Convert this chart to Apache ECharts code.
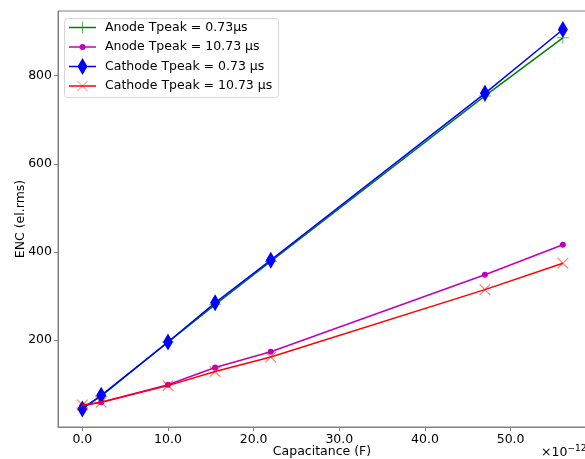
<!DOCTYPE html>
<html>
<head>
<meta charset="utf-8">
<script src="https://cdn.jsdelivr.net/npm/echarts@6/dist/echarts.min.js"></script>
<style>html,body{margin:0;padding:0;background:#fff}#c{width:585px;height:459px}</style>
</head>
<body>
<div id="c"></div>
<script>
// Capacitance in pF (axis shows ×10^-12)
const capacitance = [0, 2.2, 10, 15.5, 22, 47, 56.1];
const anodeFast   = [45, 72, 195, 280, 378, 754, 886];
const anodeSlow   = [50, 58, 98, 137, 173, 348, 416];
const cathodeFast = [43, 74, 195, 284, 381, 760, 905];
const cathodeSlow = [52, 58, 96, 128, 161, 314, 374];
const xTicks = [0, 10, 20, 30, 40, 50];
const yTicks = [200, 400, 600, 800];
const seriesNames = ['Anode Tpeak = 0.73\u00b5s', 'Anode Tpeak = 10.73 \u00b5s', 'Cathode Tpeak = 0.73 \u00b5s', 'Cathode Tpeak = 10.73 \u00b5s'];
const seriesColors = ['#008000', '#bf00bf', '#0000ff', '#ff0000'];

const FONT = 'DejaVu Sans';
const FS = 12.5;
const plus = 'path://M4.6,0 H5.4 V4.6 H10 V5.4 H5.4 V10 H4.6 V5.4 H0 V4.6 H4.6 Z';
const pairs = arr => capacitance.map((c, i) => [c, arr[i]]);

// manual legend (matplotlib style)
const LX = 64, LY = 18, LW = 214, LH = 79, ROW0 = 27.5, ROWH = 19.5;
const legendGraphics = [{
  type: 'rect', left: LX, top: LY, z: 100,
  shape: {width: LW, height: LH, r: 3},
  style: {fill: 'rgba(255,255,255,0.85)', stroke: '#d6d6d6', lineWidth: 1}
}];
seriesNames.forEach((nm, i) => {
  const y = ROW0 + i * ROWH, c = seriesColors[i];
  const x1 = 69, x2 = 96, xm = (x1 + x2) / 2;
  legendGraphics.push({type: 'line', z: 101, shape: {x1, y1: y, x2, y2: y}, style: {stroke: c, lineWidth: 1.5}});
  if (i === 0) {
    legendGraphics.push({type: 'line', z: 102, shape: {x1: xm - 6, y1: y, x2: xm + 6, y2: y}, style: {stroke: 'rgba(0,128,0,0.6)', lineWidth: 1}});
    legendGraphics.push({type: 'line', z: 102, shape: {x1: xm, y1: y - 6, x2: xm, y2: y + 6}, style: {stroke: 'rgba(0,128,0,0.6)', lineWidth: 1}});
  } else if (i === 1) {
    legendGraphics.push({type: 'circle', z: 102, shape: {cx: xm, cy: y, r: 3}, style: {fill: c}});
  } else if (i === 2) {
    legendGraphics.push({type: 'polygon', z: 102, shape: {points: [[xm, y - 8.5], [xm + 5, y], [xm, y + 8.5], [xm - 5, y]]}, style: {fill: c}});
  } else {
    legendGraphics.push({type: 'line', z: 102, shape: {x1: xm - 5, y1: y - 5, x2: xm + 5, y2: y + 5}, style: {stroke: 'rgba(255,0,0,0.5)', lineWidth: 1}});
    legendGraphics.push({type: 'line', z: 102, shape: {x1: xm - 5, y1: y + 5, x2: xm + 5, y2: y - 5}, style: {stroke: 'rgba(255,0,0,0.5)', lineWidth: 1}});
  }
  legendGraphics.push({type: 'text', z: 102, x: 105, y: y, style: {text: nm, fontFamily: FONT, fontSize: FS, fill: '#000', verticalAlign: 'middle', align: 'left'}});
});

const chart = echarts.init(document.getElementById('c'), null, {renderer: 'canvas'});
chart.setOption({
  animation: false,
  textStyle: {fontFamily: FONT},
  grid: {left: 58, top: 11, right: -1, bottom: 32, show: true, borderColor: '#808080', borderWidth: 1, containLabel: false, outerBoundsMode: 'none'},
  xAxis: {
    type: 'value', min: -2.84, max: 58.8,
    name: 'Capacitance (F)', nameLocation: 'middle', nameGap: 18, nameMoveOverlap: false,
    nameTextStyle: {fontFamily: FONT, fontSize: FS, color: '#000'},
    axisLine: {show: true, onZero: false, lineStyle: {color: '#808080'}},
    axisTick: {show: true, length: 4, lineStyle: {color: '#808080'}, customValues: xTicks},
    axisLabel: {fontFamily: FONT, fontSize: FS, color: '#000', margin: 6, customValues: xTicks, formatter: v => v.toFixed(1)},
    splitLine: {show: false}
  },
  yAxis: {
    type: 'value', min: 2, max: 947,
    name: 'ENC (el.rms)', nameLocation: 'middle', nameGap: 31, nameMoveOverlap: false,
    nameTextStyle: {fontFamily: FONT, fontSize: FS, color: '#000'},
    axisLine: {show: true, onZero: false, lineStyle: {color: '#808080'}},
    axisTick: {show: true, length: 4, lineStyle: {color: '#808080'}, customValues: yTicks},
    axisLabel: {fontFamily: FONT, fontSize: FS, color: '#000', margin: 6, customValues: yTicks},
    splitLine: {show: false}
  },
  graphic: legendGraphics.concat([{
    type: 'text', left: 541, top: 444,
    style: {
      text: '{a|\u00d710}{b|\u221212}',
      rich: {a: {fontFamily: FONT, fontSize: FS, fill: '#000'}, b: {fontFamily: FONT, fontSize: 9, fill: '#000', verticalAlign: 'top', padding: [0,0,8,0]}}
    }
  }]),
  series: [
    {name: seriesNames[0], type: 'line', data: pairs(anodeFast),
     lineStyle: {width: 1.5, color: seriesColors[0]}, symbol: plus, symbolSize: 12, itemStyle: {color: 'rgba(0,128,0,0.6)'}, z: 2},
    {name: seriesNames[1], type: 'line', data: pairs(anodeSlow),
     lineStyle: {width: 1.5, color: seriesColors[1]}, symbol: 'circle', symbolSize: 6, itemStyle: {color: seriesColors[1]}, z: 3},
    {name: seriesNames[2], type: 'line', data: pairs(cathodeFast),
     lineStyle: {width: 1.5, color: seriesColors[2]}, symbol: 'diamond', symbolSize: [10, 17], itemStyle: {color: seriesColors[2]}, z: 4},
    {name: seriesNames[3], type: 'line', data: pairs(cathodeSlow),
     lineStyle: {width: 1.5, color: seriesColors[3]}, symbol: plus, symbolRotate: 45, symbolSize: 15, itemStyle: {color: 'rgba(255,0,0,0.5)'}, z: 5}
  ]
});
</script>
</body>
</html>
